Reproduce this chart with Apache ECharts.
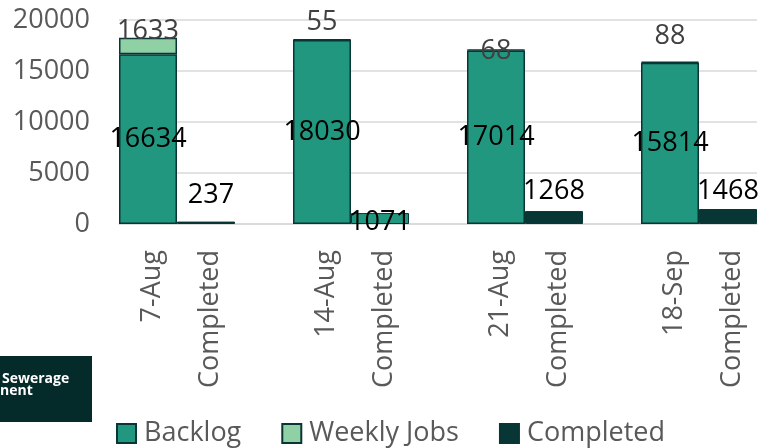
<!DOCTYPE html>
<html>
<head>
<meta charset="utf-8">
<script src="https://cdn.jsdelivr.net/npm/echarts@6/dist/echarts.min.js"></script>
<style>
  html, body { margin: 0; padding: 0; background: #fff; }
  #chart { width: 761px; height: 448px; }
</style>
</head>
<body>
<div id="chart"></div>
<script>
var weeks = ['7-Aug', '14-Aug', '21-Aug', '18-Sep']
var backlog = [16634, 18030, 17014, 15814]
var weeklyJobs = [1633, 55, 68, 88]
var completed = [237, 1071, 1268, 1468]

// label nudges (px)
var weeklyLabelDy = [-6, -17, 2, -25]
var completedLabelDy = [-26, 9, -20, -18]
var completedLabelDx = [5, 0, 0, 0]

var TEAL = '#22977f'
var LIGHT = '#8fd1a4'
var DARK = '#083634'
var FONT = 'Open Sans'

// categories: week, Completed, gap, ...
var categories = []
var backlogData = []
var weeklyData = []
var completedData = []
weeks.forEach(function(w, i) {
  if (i > 0) {
    categories.push('')
    backlogData.push('-')
    weeklyData.push('-')
    completedData.push('-')
  }
  categories.push(w)
  backlogData.push(backlog[i])
  weeklyData.push({
    value: weeklyJobs[i],
    label: { position: ['50%', weeklyLabelDy[i]] }
  })
  completedData.push('-')

  categories.push('Completed')
  backlogData.push('-')
  weeklyData.push('-')
  var c = {
    value: completed[i],
    label: {
      position: ['50%', completedLabelDy[i]],
      offset: [completedLabelDx[i], 0]
    }
  }
  // the 14-Aug completed bar is drawn in the backlog colour
  if (i === 1) c.itemStyle = { color: TEAL }
  completedData.push(c)
})

var chart = echarts.init(document.getElementById('chart'))
chart.setOption({
  animation: false,
  textStyle: { fontFamily: FONT },
  grid: { left: 119, right: 4, top: 20, bottom: 224 },
  legend: {
    left: 111,
    top: 415,
    icon: 'rect',
    itemWidth: 19,
    itemHeight: 19,
    itemGap: 40,
    textStyle: { fontSize: 27, color: '#595959', fontFamily: FONT, padding: [0, 0, 0, 3] },
    data: ['Backlog', 'Weekly Jobs', 'Completed']
  },
  xAxis: {
    type: 'category',
    data: categories,
    axisLine: { lineStyle: { color: '#d9d9d9', width: 1.5 } },
    axisTick: { show: false },
    axisLabel: {
      interval: 0,
      rotate: 90,
      margin: 26,
      verticalAlign: 'top',
      lineHeight: 8,
      fontSize: 27,
      color: '#595959',
      fontFamily: FONT
    }
  },
  yAxis: {
    type: 'value',
    min: 0,
    max: 20000,
    interval: 5000,
    axisLine: { show: false },
    axisTick: { show: false },
    splitLine: { lineStyle: { color: '#d9d9d9', width: 1.5 } },
    axisLabel: {
      margin: 29,
      fontSize: 27,
      color: '#595959',
      fontFamily: FONT,
      formatter: function(v) { return String(v) }
    }
  },
  graphic: [
    {
      type: 'rect',
      shape: { x: 0, y: 356, width: 92, height: 66 },
      style: { fill: '#042a2a' }
    },
    {
      type: 'text',
      left: 2,
      top: 372,
      style: { text: 'Sewerage', fill: '#fff', font: 'bold 14px "Open Sans"' }
    },
    {
      type: 'text',
      left: 0,
      top: 384,
      style: { text: 'nent', fill: '#fff', font: 'bold 14px "Open Sans"' }
    }
  ],
  series: [
    {
      name: 'Backlog',
      type: 'bar',
      stack: 'jobs',
      barCategoryGap: '0%',
      data: backlogData,
      itemStyle: { color: TEAL, borderColor: DARK, borderWidth: 1.5 },
      label: {
        show: true,
        position: 'inside',
        fontSize: 27,
        color: '#000',
        fontFamily: FONT
      }
    },
    {
      name: 'Weekly Jobs',
      type: 'bar',
      stack: 'jobs',
      data: weeklyData,
      itemStyle: { color: LIGHT, borderColor: DARK, borderWidth: 1.5 },
      label: {
        show: true,
        fontSize: 27,
        color: '#404040',
        fontFamily: FONT,
        align: 'center',
        verticalAlign: 'middle'
      }
    },
    {
      name: 'Completed',
      type: 'bar',
      stack: 'jobs',
      data: completedData,
      itemStyle: { color: DARK, borderColor: DARK, borderWidth: 1 },
      label: {
        show: true,
        fontSize: 27,
        color: '#000',
        fontFamily: FONT,
        align: 'center',
        verticalAlign: 'middle'
      }
    }
  ]
})
</script>
</body>
</html>
